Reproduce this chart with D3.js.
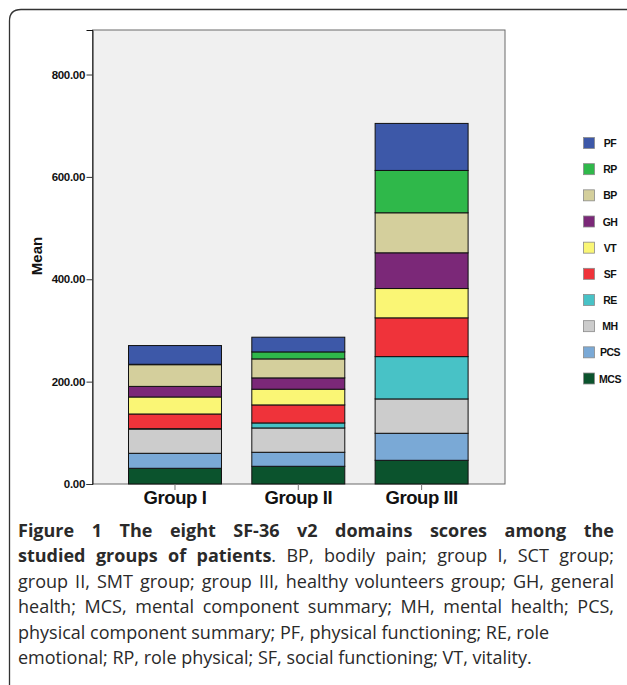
<!DOCTYPE html>
<html><head><meta charset="utf-8">
<script src="https://cdn.jsdelivr.net/npm/d3@7"></script>
<style>
html,body{margin:0;padding:0;background:#fff;}
svg{display:block;}
</style></head>
<body>
<svg id="chart" width="627" height="685"></svg>
<script>
// ---------- data ----------
const groups = ["Group I", "Group II", "Group III"];
const domains = ["MCS", "PCS", "MH", "RE", "SF", "VT", "GH", "BP", "RP", "PF"]; // bottom -> top
const MCS = [30.7, 34.6, 46.3];
const PCS = [29.3, 27.4, 52.8];
const MH  = [47.5, 47.5, 67.1];
const RE  = [0.6, 9.8, 82.7];
const SF  = [28.7, 35.2, 75.7];
const VT  = [33.2, 30.7, 57.3];
const GH  = [20.7, 22.1, 69.8];
const BP  = [42.4, 37.1, 78.2];
const RP  = [0.8, 13.7, 82.7];
const PF  = [36.6, 28.7, 91.9];
const colors = ["#0b532d", "#7aa9d6", "#cccccc", "#48c2c6", "#ef333a", "#faf675", "#7b2878", "#d4cf9c", "#2fb84a", "#3d58a8"];
const yTicks = [0, 200, 400, 600, 800];
const yMax = 887;
const yTitle = "Mean";

const series = {MCS, PCS, MH, RE, SF, VT, GH, BP, RP, PF};
const table = groups.map((g, i) => {
  const row = {group: g};
  domains.forEach(d => row[d] = series[d][i]);
  return row;
});

// ---------- layout ----------
const svg = d3.select("#chart");
const plot = {left: 92.5, top: 30, right: 505, bottom: 484};

// outer figure frame (left + top with rounded corner)
svg.append("path")
  .attr("d", `M9.5,690 L9.5,21 Q9.5,9.5 21,9.5 L627,9.5`)
  .attr("fill", "none").attr("stroke", "#333").attr("stroke-width", 1.3);

const x = d3.scaleBand().domain(groups).range([128.5, 468.1]).paddingInner(0.246).paddingOuter(0);
const y = d3.scaleLinear().domain([0, yMax]).range([plot.bottom, plot.top]);
const color = d3.scaleOrdinal().domain(domains).range(colors);

// plot background
svg.append("rect")
  .attr("x", plot.left).attr("y", plot.top)
  .attr("width", plot.right - plot.left).attr("height", plot.bottom - plot.top)
  .attr("fill", "#f0f0f0").attr("stroke", "#6a6a6a").attr("stroke-width", 1);

// stacked bars
const stack = d3.stack().keys(domains)(table);
svg.append("g").selectAll("g").data(stack).join("g")
  .attr("fill", d => color(d.key))
  .selectAll("rect").data(d => d).join("rect")
  .attr("x", d => x(d.data.group))
  .attr("width", x.bandwidth())
  .attr("y", d => y(d[1]))
  .attr("height", d => y(d[0]) - y(d[1]))
  .attr("stroke", "#111").attr("stroke-width", 1);

// y axis
const yAxis = d3.axisLeft(y).tickValues(yTicks).tickFormat(d3.format(".2f")).tickSize(6).tickPadding(1.5);
const yg = svg.append("g").attr("transform", `translate(${plot.left},0)`).call(yAxis);
yg.select(".domain").attr("stroke", "#111");
yg.selectAll(".tick line").attr("stroke", "#333");
yg.selectAll(".tick text")
  .attr("font-family", "Liberation Sans, Arial, sans-serif")
  .attr("font-weight", "bold").attr("font-size", 11.5).attr("letter-spacing", -0.3).attr("fill", "#111");

// x axis
const xAxis = d3.axisBottom(x).tickSize(6).tickPadding(2);
const xg = svg.append("g").attr("transform", `translate(0,${plot.bottom})`).call(xAxis);
xg.select(".domain").remove();
xg.selectAll(".tick line").attr("stroke", "#777");
xg.selectAll(".tick text")
  .attr("font-family", "Liberation Sans, Arial, sans-serif")
  .attr("font-weight", "bold").attr("font-size", 18.5).attr("letter-spacing", -0.4).attr("fill", "#111")
  .attr("dy", "0.65em");

// y title
svg.append("text")
  .attr("transform", "translate(42,256) rotate(-90)")
  .attr("text-anchor", "middle")
  .attr("font-family", "Liberation Sans, Arial, sans-serif")
  .attr("font-weight", "bold").attr("font-size", 15).attr("fill", "#111")
  .text(yTitle);

// legend
const legendKeys = domains.slice().reverse();
const ly = d3.scalePoint().domain(legendKeys).range([143, 378.5]);
const lg = svg.append("g").selectAll("g").data(legendKeys).join("g")
  .attr("transform", d => `translate(0,${ly(d)})`);
lg.append("rect")
  .attr("x", 583.5).attr("y", -5.5).attr("width", 11).attr("height", 11)
  .attr("fill", d => color(d)).attr("stroke", "#8a8a8a").attr("stroke-width", 0.8);
lg.append("text")
  .attr("x", 610).attr("y", 0).attr("dy", "0.38em")
  .attr("text-anchor", "middle")
  .attr("font-family", "Liberation Sans, Arial, sans-serif")
  .attr("font-weight", "bold").attr("font-size", 10.5).attr("letter-spacing", -0.5).attr("fill", "#111")
  .text(d => d);

// caption
const capLines = [
  {parts: [{t: "Figure 1 The eight SF-36 v2 domains scores among the", b: true}], justify: true},
  {parts: [{t: "studied groups of patients", b: true}, {t: ". BP, bodily pain; group I, SCT group;", b: false}], justify: true},
  {parts: [{t: "group II, SMT group; group III, healthy volunteers group; GH, general", b: false}], justify: true},
  {parts: [{t: "health; MCS, mental component summary; MH, mental health; PCS,", b: false}], justify: true},
  {parts: [{t: "physical component summary; PF, physical functioning; RE, role", b: false}], justify: false},
  {parts: [{t: "emotional; RP, role physical; SF, social functioning; VT, vitality.", b: false}], justify: false}
];
const capLeft = 18, capRight = 614;
capLines.forEach((ln, i) => {
  const t = svg.append("text")
    .attr("x", capLeft).attr("y", 537 + i * 25.4)
    .attr("font-family", "Open Sans, sans-serif")
    .attr("font-size", 18).attr("fill", "#2a2a2a");
  ln.parts.forEach(p => {
    t.append("tspan").attr("font-weight", p.b ? "bold" : "normal").text(p.t);
  });
  const w = t.node().getComputedTextLength();
  const full = ln.parts.map(p => p.t).join("");
  const spaces = (full.match(/ /g) || []).length;
  if (ln.justify && spaces > 0) {
    t.attr("word-spacing", (capRight - capLeft - w) / spaces);
  } else if (w > capRight - capLeft) {
    t.attr("textLength", capRight - capLeft).attr("lengthAdjust", "spacingAndGlyphs");
  }
});
</script>
</body></html>
